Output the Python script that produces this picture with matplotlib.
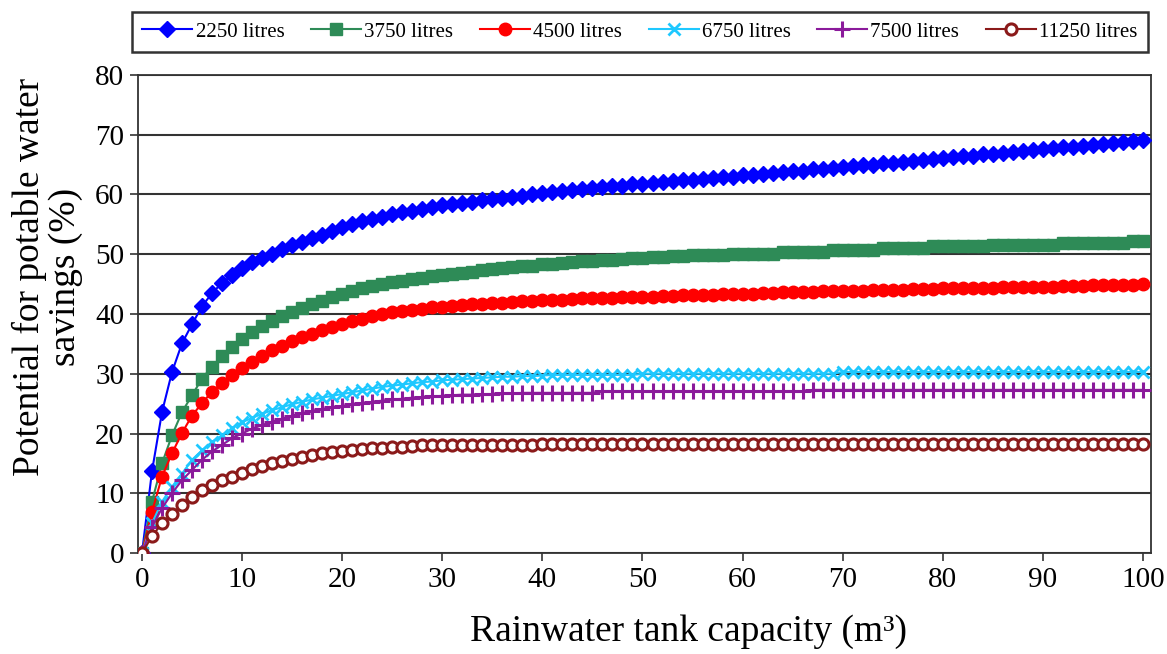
import numpy as np
import matplotlib
matplotlib.use("Agg")
import matplotlib.pyplot as plt

# Tank capacity (m3), one point per cubic metre
capacity = list(range(0, 101))

labels = ["2250 litres", "3750 litres", "4500 litres", "6750 litres", "7500 litres", "11250 litres"]

savings_2250 = [
    0.0, 13.7, 23.6, 30.3, 35.1, 38.3, 41.3, 43.5, 45.2, 46.5,
    47.7, 48.7, 49.4, 50.1, 50.8, 51.5, 52.1, 52.7, 53.3, 53.9,
    54.5, 55.0, 55.5, 55.9, 56.3, 56.7, 57.0, 57.3, 57.6, 57.9,
    58.2, 58.4, 58.6, 58.8, 59.0, 59.2, 59.4, 59.6, 59.8, 60.0,
    60.2, 60.4, 60.6, 60.7, 60.9, 61.1, 61.2, 61.4, 61.5, 61.7,
    61.8, 62.0, 62.1, 62.2, 62.4, 62.5, 62.6, 62.8, 62.9, 63.0,
    63.2, 63.3, 63.5, 63.6, 63.7, 63.9, 64.0, 64.2, 64.3, 64.4,
    64.6, 64.7, 64.9, 65.0, 65.2, 65.3, 65.4, 65.6, 65.8, 65.9,
    66.1, 66.2, 66.4, 66.5, 66.7, 66.8, 67.0, 67.1, 67.3, 67.4,
    67.6, 67.7, 67.9, 68.0, 68.2, 68.3, 68.5, 68.6, 68.8, 68.9,
    69.1,
]

savings_3750 = [
    0.0, 8.6, 15.0, 19.7, 23.6, 26.4, 29.2, 31.2, 32.9, 34.4,
    35.8, 37.0, 38.0, 38.9, 39.7, 40.4, 41.0, 41.6, 42.2, 42.8,
    43.3, 43.8, 44.3, 44.7, 45.1, 45.4, 45.6, 45.9, 46.1, 46.3,
    46.5, 46.7, 46.9, 47.1, 47.3, 47.5, 47.7, 47.8, 48.0, 48.1,
    48.3, 48.4, 48.5, 48.7, 48.8, 48.9, 49.0, 49.1, 49.2, 49.3,
    49.4, 49.5, 49.6, 49.7, 49.7, 49.8, 49.8, 49.9, 49.9, 50.1,
    50.1, 50.1, 50.1, 50.1, 50.4, 50.4, 50.4, 50.4, 50.4, 50.7,
    50.7, 50.7, 50.7, 50.7, 51.0, 51.0, 51.0, 51.0, 51.0, 51.3,
    51.3, 51.3, 51.3, 51.3, 51.3, 51.6, 51.6, 51.6, 51.6, 51.6,
    51.6, 51.6, 51.9, 51.9, 51.9, 51.9, 51.9, 51.9, 51.9, 52.3,
    52.3,
]

savings_4500 = [
    0.0, 6.9, 12.8, 16.7, 20.1, 23.0, 25.1, 27.0, 28.5, 29.8,
    31.0, 32.0, 33.0, 33.9, 34.7, 35.4, 36.1, 36.7, 37.3, 37.9,
    38.4, 38.8, 39.2, 39.6, 40.0, 40.3, 40.5, 40.7, 40.9, 41.1,
    41.2, 41.4, 41.5, 41.6, 41.7, 41.8, 41.9, 42.0, 42.1, 42.2,
    42.3, 42.4, 42.4, 42.5, 42.6, 42.6, 42.7, 42.7, 42.8, 42.8,
    42.9, 42.9, 43.0, 43.0, 43.1, 43.1, 43.2, 43.2, 43.3, 43.3,
    43.4, 43.4, 43.5, 43.5, 43.6, 43.6, 43.7, 43.7, 43.8, 43.8,
    43.9, 43.9, 43.9, 44.0, 44.0, 44.1, 44.1, 44.2, 44.2, 44.2,
    44.3, 44.3, 44.3, 44.4, 44.4, 44.4, 44.5, 44.5, 44.5, 44.6,
    44.6, 44.6, 44.7, 44.7, 44.7, 44.8, 44.8, 44.8, 44.9, 44.9,
    45.0,
]

savings_6750 = [
    0.0, 5.0, 8.6, 11.1, 13.3, 15.6, 17.2, 18.6, 19.7, 20.9,
    21.9, 22.6, 23.3, 23.9, 24.4, 24.9, 25.3, 25.7, 26.0, 26.3,
    26.6, 26.9, 27.2, 27.5, 27.8, 28.0, 28.2, 28.4, 28.6, 28.7,
    28.9, 29.0, 29.1, 29.2, 29.3, 29.4, 29.5, 29.5, 29.6, 29.6,
    29.7, 29.8, 29.8, 29.8, 29.8, 29.8, 29.8, 29.8, 29.8, 29.8,
    30.0, 30.0, 30.0, 30.0, 30.0, 30.0, 30.0, 30.0, 30.0, 30.0,
    30.0, 30.0, 30.0, 30.0, 30.0, 30.0, 30.0, 30.0, 30.0, 30.0,
    30.3, 30.3, 30.3, 30.3, 30.3, 30.3, 30.3, 30.3, 30.3, 30.3,
    30.3, 30.3, 30.3, 30.3, 30.3, 30.3, 30.3, 30.3, 30.3, 30.3,
    30.3, 30.3, 30.3, 30.3, 30.3, 30.3, 30.3, 30.3, 30.3, 30.3,
    30.3,
]

savings_7500 = [
    0.0, 4.4, 7.5, 10.0, 12.2, 13.9, 15.6, 17.0, 18.1, 19.2,
    20.0, 20.8, 21.4, 22.0, 22.5, 23.0, 23.4, 23.8, 24.1, 24.4,
    24.6, 24.9, 25.1, 25.3, 25.5, 25.7, 25.8, 26.0, 26.1, 26.2,
    26.3, 26.4, 26.5, 26.5, 26.6, 26.6, 26.7, 26.7, 26.8, 26.8,
    26.8, 26.8, 26.8, 26.8, 26.8, 26.8, 27.1, 27.1, 27.1, 27.1,
    27.1, 27.1, 27.1, 27.1, 27.1, 27.1, 27.1, 27.1, 27.1, 27.1,
    27.1, 27.1, 27.1, 27.1, 27.1, 27.1, 27.1, 27.3, 27.3, 27.3,
    27.3, 27.3, 27.3, 27.3, 27.3, 27.3, 27.3, 27.3, 27.3, 27.3,
    27.3, 27.3, 27.3, 27.3, 27.3, 27.3, 27.3, 27.3, 27.3, 27.3,
    27.3, 27.3, 27.3, 27.3, 27.3, 27.3, 27.3, 27.3, 27.3, 27.3,
    27.3,
]

savings_11250 = [
    0.0, 2.8, 5.0, 6.6, 8.0, 9.4, 10.5, 11.4, 12.2, 12.8,
    13.4, 14.0, 14.5, 15.0, 15.4, 15.8, 16.1, 16.4, 16.7, 16.9,
    17.1, 17.3, 17.4, 17.5, 17.6, 17.7, 17.8, 17.9, 18.0, 18.0,
    18.1, 18.1, 18.1, 18.1, 18.1, 18.1, 18.1, 18.1, 18.1, 18.1,
    18.3, 18.3, 18.3, 18.3, 18.3, 18.3, 18.3, 18.3, 18.3, 18.3,
    18.3, 18.3, 18.3, 18.3, 18.3, 18.3, 18.3, 18.3, 18.3, 18.3,
    18.3, 18.3, 18.3, 18.3, 18.3, 18.3, 18.3, 18.3, 18.3, 18.3,
    18.3, 18.3, 18.3, 18.3, 18.3, 18.3, 18.3, 18.3, 18.3, 18.3,
    18.3, 18.3, 18.3, 18.3, 18.3, 18.3, 18.3, 18.3, 18.3, 18.3,
    18.3, 18.3, 18.3, 18.3, 18.3, 18.3, 18.3, 18.3, 18.3, 18.3,
    18.3,
]

x_ticks = [0, 10, 20, 30, 40, 50, 60, 70, 80, 90, 100]
y_ticks = [0, 10, 20, 30, 40, 50, 60, 70, 80]

series = [savings_2250, savings_3750, savings_4500, savings_6750, savings_7500, savings_11250]
styles = [
    dict(color="#0000FF", marker="D", ms=8.5, mfc="#0000FF", mec="#0000FF", mew=1.0),
    dict(color="#2E8B57", marker="s", ms=8.0, mfc="#2E8B57", mec="#2E8B57", mew=1.0),
    dict(color="#FF0000", marker="o", ms=9.0, mfc="#FF0000", mec="#FF0000", mew=1.0),
    dict(color="#1EC8FF", marker="x", ms=8.5, mfc="#1EC8FF", mec="#1EC8FF", mew=2.0),
    dict(color="#8B1A9B", marker="+", ms=11.0, mfc="#8B1A9B", mec="#8B1A9B", mew=2.2),
    dict(color="#8B1A1A", marker="o", ms=8.0, mfc="white", mec="#8B1A1A", mew=2.2),
]

plt.rcParams["font.family"] = ["Liberation Serif", "DejaVu Serif"]

fig = plt.figure(figsize=(11.67, 6.54), dpi=100)
ax = fig.add_axes([138 / 1167, 1 - 553 / 654, (1151 - 138) / 1167, (553 - 75) / 654])

for vals, lab, st in zip(series, labels, styles):
    ax.plot(capacity, vals, lw=1.5, label=lab, zorder=3, **st)

ax.set_xlim(-0.4, 100.8)
ax.set_ylim(0, 80)
ax.set_xticks(x_ticks)
ax.set_yticks(y_ticks)
ax.tick_params(axis="both", labelsize=21, length=6, width=1.2, color="#333333", pad=4)
ax.yaxis.grid(True, color="#333333", lw=1.5, zorder=1)
ax.set_axisbelow(True)
for sp in ax.spines.values():
    sp.set_color("#333333")
    sp.set_linewidth(1.3)

fig.text(688 / 1167, 1 - 632 / 654, "Rainwater tank capacity (m³)", fontsize=27,
         ha="center", va="center")
fig.text(47 / 1167, 1 - 277 / 654, "Potential for potable water\nsavings (%)", fontsize=27,
         ha="center", va="center", rotation=90, multialignment="center", linespacing=1.05)

leg = fig.legend(loc="lower left", bbox_to_anchor=(132 / 1167, 1 - 52 / 654, (1148 - 132) / 1167, 44 / 654),
                 mode="expand", ncol=6, fontsize=15, frameon=True, fancybox=False,
                 handlelength=2.4, handletextpad=0.15, borderaxespad=0, columnspacing=0.6,
                 borderpad=0.5)
leg.get_frame().set_edgecolor("black")
leg.get_frame().set_linewidth(1.8)

fig.savefig("out.png", dpi=100)
